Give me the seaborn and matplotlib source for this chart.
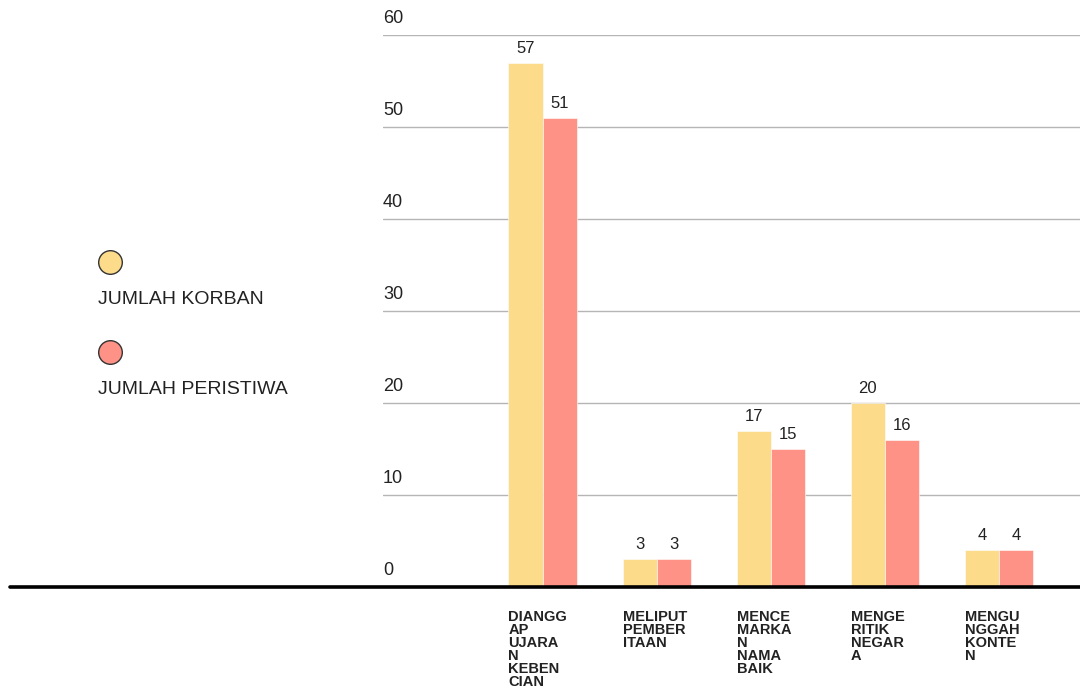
import matplotlib
matplotlib.use("Agg")
import matplotlib.pyplot as plt
from matplotlib.lines import Line2D
import seaborn as sns
import pandas as pd

categories = ["DIANGGAP UJARAN KEBENCIAN", "MELIPUT PEMBERITAAN", "MENCEMARKAN NAMA BAIK",
              "MENGERITIK NEGARA", "MENGUNGGAH KONTEN"]
tick_labels = ["DIANGG\nAP\nUJARA\nN\nKEBEN\nCIAN", "MELIPUT\nPEMBER\nITAAN",
               "MENCE\nMARKA\nN\nNAMA\nBAIK", "MENGE\nRITIK\nNEGAR\nA", "MENGU\nNGGAH\nKONTE\nN"]
series = ["JUMLAH KORBAN", "JUMLAH PERISTIWA"]
korban = [57, 3, 17, 20, 4]
peristiwa = [51, 3, 15, 16, 4]
y_ticks = [0, 10, 20, 30, 40, 50, 60]
colors = ["#FCDB8B", "#FE9286"]

sns.set_theme(style="white")
plt.rcParams["font.family"] = ["Liberation Sans", "DejaVu Sans"]
text_color = "#222222"

df = pd.DataFrame({
    "kategori": categories * 2,
    "seri": [series[0]] * len(categories) + [series[1]] * len(categories),
    "nilai": korban + peristiwa,
})

fig = plt.figure(figsize=(10.8, 6.95), dpi=100)
ax = fig.add_axes([383 / 1080, 1 - 587 / 695, 697 / 1080, (587 - 35) / 695])

sns.barplot(data=df, x="kategori", y="nilai", hue="seri", order=categories,
            hue_order=series, palette=colors, width=0.6, saturation=1,
            edgecolor="white", linewidth=0.4, legend=False, ax=ax, zorder=3)

for cont in ax.containers:
    ax.bar_label(cont, padding=5, fontsize=12, color=text_color)

ax.set_xlim(-1.40, 4.71)
ax.set_ylim(0, 60)
ax.set_xlabel("")
ax.set_ylabel("")
ax.set_xticks([])
ax.set_yticks([])
for s in ax.spines.values():
    s.set_visible(False)

for v in y_ticks:
    if v > 0:
        ax.axhline(v, color="#b5b5b5", linewidth=1, zorder=1)
    ax.annotate(str(v), xy=(0, v), xycoords=("axes fraction", "data"),
                xytext=(0, 8), textcoords="offset pixels", ha="left", va="bottom",
                fontsize=13, color=text_color)

ax.axhline(0, xmin=(10 - 383) / 697, xmax=1, color="black", linewidth=2.6,
           clip_on=False, zorder=5)

for i, lab in enumerate(tick_labels):
    ax.annotate(lab, xy=(i - 0.3, 0), xycoords="data", xytext=(0, -23),
                textcoords="offset pixels", ha="left", va="top", fontsize=10.5,
                fontweight="bold", color=text_color, linespacing=0.9,
                annotation_clip=False)

# legend: circle above label
leg_y = [262, 352]
for name, col, yy in zip(series, colors, leg_y):
    fig.add_artist(Line2D([110 / 1080], [1 - yy / 695], marker="o", markersize=17,
                          markerfacecolor=col, markeredgecolor="#333333",
                          markeredgewidth=1, linestyle="none",
                          transform=fig.transFigure))
    fig.text(98 / 1080, 1 - (yy + 37) / 695, name, ha="left", va="center",
             fontsize=14, color=text_color)

fig.savefig("out.png", dpi=100)
